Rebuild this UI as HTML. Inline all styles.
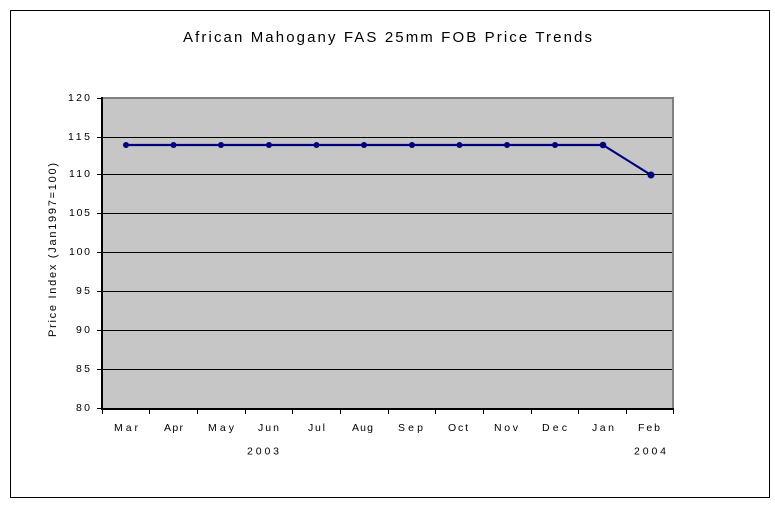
<!DOCTYPE html>
<html>
<head>
<meta charset="utf-8">
<style>
  html, body { margin: 0; padding: 0; background: #ffffff; }
  body { width: 775px; height: 510px; overflow: hidden; }
  svg { display: block; }
  text { font-family: "Liberation Sans", Arial, sans-serif; fill: #000; }
</style>
</head>
<body>
<svg width="775" height="510" viewBox="0 0 775 510" xmlns="http://www.w3.org/2000/svg">
  <rect x="0" y="0" width="775" height="510" fill="#ffffff"/>
  <!-- outer frame -->
  <rect x="10.5" y="10.5" width="759" height="487" fill="none" stroke="#000" stroke-width="1"/>

  <!-- title -->
  <text x="183" y="42" font-size="15" textLength="409" lengthAdjust="spacing">African Mahogany FAS 25mm FOB Price Trends</text>

  <!-- plot area -->
  <rect x="102" y="97" width="572" height="312" fill="#c6c6c6"/>
  <!-- gray border top/right -->
  <line x1="102" y1="98" x2="674" y2="98" stroke="#808080" stroke-width="2"/>
  <line x1="673" y1="97" x2="673" y2="409" stroke="#808080" stroke-width="2"/>

  <!-- gridlines -->
  <g stroke="#000" stroke-width="1">
    <line x1="102" y1="137.5" x2="672" y2="137.5"/>
    <line x1="102" y1="174.5" x2="672" y2="174.5"/>
    <line x1="102" y1="213.5" x2="672" y2="213.5"/>
    <line x1="102" y1="252.5" x2="672" y2="252.5"/>
    <line x1="102" y1="291.5" x2="672" y2="291.5"/>
    <line x1="102" y1="330.5" x2="672" y2="330.5"/>
    <line x1="102" y1="369.5" x2="672" y2="369.5"/>
  </g>

  <!-- axes -->
  <line x1="102" y1="97" x2="102" y2="410" stroke="#000" stroke-width="2"/>
  <line x1="101" y1="409" x2="674" y2="409" stroke="#000" stroke-width="2"/>

  <!-- y ticks -->
  <g stroke="#000" stroke-width="1">
    <line x1="97" y1="98.5" x2="102" y2="98.5"/>
    <line x1="97" y1="137.5" x2="102" y2="137.5"/>
    <line x1="97" y1="174.5" x2="102" y2="174.5"/>
    <line x1="97" y1="213.5" x2="102" y2="213.5"/>
    <line x1="97" y1="252.5" x2="102" y2="252.5"/>
    <line x1="97" y1="291.5" x2="102" y2="291.5"/>
    <line x1="97" y1="330.5" x2="102" y2="330.5"/>
    <line x1="97" y1="369.5" x2="102" y2="369.5"/>
    <line x1="97" y1="408.5" x2="102" y2="408.5"/>
  </g>

  <!-- x ticks -->
  <g stroke="#000" stroke-width="1">
    <line x1="102.5" y1="409" x2="102.5" y2="414"/>
    <line x1="149.5" y1="409" x2="149.5" y2="414"/>
    <line x1="197.5" y1="409" x2="197.5" y2="414"/>
    <line x1="245.5" y1="409" x2="245.5" y2="414"/>
    <line x1="292.5" y1="409" x2="292.5" y2="414"/>
    <line x1="340.5" y1="409" x2="340.5" y2="414"/>
    <line x1="388.5" y1="409" x2="388.5" y2="414"/>
    <line x1="435.5" y1="409" x2="435.5" y2="414"/>
    <line x1="483.5" y1="409" x2="483.5" y2="414"/>
    <line x1="531.5" y1="409" x2="531.5" y2="414"/>
    <line x1="578.5" y1="409" x2="578.5" y2="414"/>
    <line x1="626.5" y1="409" x2="626.5" y2="414"/>
    <line x1="673.5" y1="409" x2="673.5" y2="414"/>
  </g>

  <!-- y tick labels -->
  <g font-size="10.5" text-anchor="end">
    <text x="90" y="101" textLength="22" lengthAdjust="spacing">120</text>
    <text x="90" y="140" textLength="22" lengthAdjust="spacing">115</text>
    <text x="90" y="177" textLength="21" lengthAdjust="spacing">110</text>
    <text x="90" y="216" textLength="21" lengthAdjust="spacing">105</text>
    <text x="90" y="255" textLength="21" lengthAdjust="spacing">100</text>
    <text x="90" y="294" textLength="14" lengthAdjust="spacing">95</text>
    <text x="90" y="333" textLength="14" lengthAdjust="spacing">90</text>
    <text x="90" y="372" textLength="14" lengthAdjust="spacing">85</text>
    <text x="90" y="411" textLength="14" lengthAdjust="spacing">80</text>
  </g>

  <!-- y axis title -->
  <text transform="translate(56,250) rotate(-90)" font-size="11" text-anchor="middle" textLength="174" lengthAdjust="spacing">Price Index (Jan1997=100)</text>

  <!-- x labels -->
  <g font-size="10.5">
    <text x="114" y="431" textLength="24" lengthAdjust="spacing">Mar</text>
    <text x="164" y="431" textLength="19" lengthAdjust="spacing">Apr</text>
    <text x="208" y="431" textLength="26" lengthAdjust="spacing">May</text>
    <text x="258" y="431" textLength="21" lengthAdjust="spacing">Jun</text>
    <text x="308" y="431" textLength="17" lengthAdjust="spacing">Jul</text>
    <text x="352" y="431" textLength="21" lengthAdjust="spacing">Aug</text>
    <text x="398" y="431" textLength="25" lengthAdjust="spacing">Sep</text>
    <text x="448" y="431" textLength="20" lengthAdjust="spacing">Oct</text>
    <text x="494" y="431" textLength="24" lengthAdjust="spacing">Nov</text>
    <text x="542" y="431" textLength="25" lengthAdjust="spacing">Dec</text>
    <text x="592" y="431" textLength="22" lengthAdjust="spacing">Jan</text>
    <text x="638" y="431" textLength="22" lengthAdjust="spacing">Feb</text>
    <text x="247" y="454.5" textLength="32" lengthAdjust="spacing">2003</text>
    <text x="634" y="454.5" textLength="32" lengthAdjust="spacing">2004</text>
  </g>

  <!-- data series -->
  <polyline fill="none" stroke="#000080" stroke-width="2.2" stroke-linejoin="round"
    points="126,145 173.5,145 221,145 269,145 316.5,145 364,145 412,145 459.5,145 507,145 555,145 603,145 651,175"/>
  <g fill="#000080">
    <circle cx="126" cy="145" r="3"/>
    <circle cx="173.5" cy="145" r="3"/>
    <circle cx="221" cy="145" r="3"/>
    <circle cx="269" cy="145" r="3"/>
    <circle cx="316.5" cy="145" r="3"/>
    <circle cx="364" cy="145" r="3"/>
    <circle cx="412" cy="145" r="3"/>
    <circle cx="459.5" cy="145" r="3"/>
    <circle cx="507" cy="145" r="3"/>
    <circle cx="555" cy="145" r="3"/>
    <circle cx="603" cy="145" r="3.3"/>
    <circle cx="651" cy="175" r="3.5"/>
  </g>
</svg>
</body>
</html>
